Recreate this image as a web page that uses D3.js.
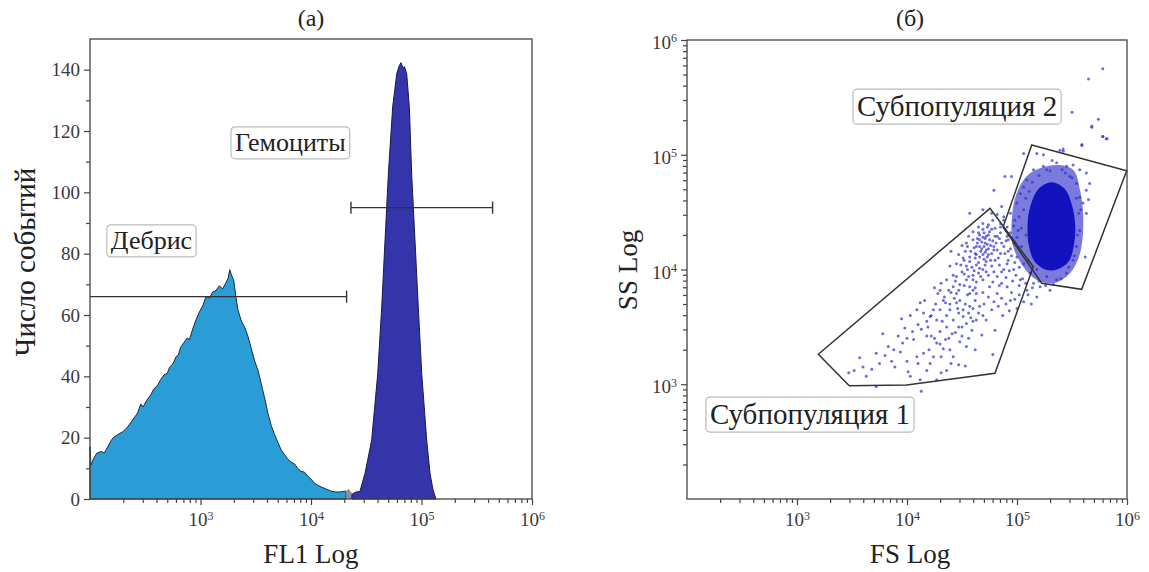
<!DOCTYPE html>
<html>
<head>
<meta charset="utf-8">
<script src="https://cdnjs.cloudflare.com/ajax/libs/d3/7.8.5/d3.min.js"></script>
<style>
body{margin:0;background:#fff;}
text{font-family:"Liberation Serif","Times New Roman",serif;}
</style>
</head>
<body>
<svg width="1149" height="572"></svg>
<script>
// ---- panel (а): FL1 histogram, x values are log10(FL1) ----
var debrisFL1 = [2.000,2.000,2.008,2.03,2.06,2.10,2.13,2.16,2.19,2.21,2.25,2.30,2.34,2.39,2.43,2.46,2.48,2.51,2.55,2.58,2.61,2.64,2.67,2.70,2.72,2.75,2.78,2.80,2.82,2.85,2.88,2.90,2.93,2.96,2.99,3.02,3.05,3.08,3.11,3.14,3.17,3.20,3.23,3.25,3.265,3.28,3.30,3.32,3.34,3.37,3.40,3.43,3.46,3.49,3.52,3.55,3.58,3.61,3.64,3.67,3.70,3.73,3.76,3.79,3.82,3.85,3.88,3.91,3.94,3.97,4.00,4.03,4.06,4.10,4.14,4.18,4.22,4.26,4.30,4.315,4.315];
var debrisCount = [0,17,11,13,14.9,15.5,15,17,19,20,21,22,23.5,26,28,31,30,32,34,36,37,39,40.5,41,43,44,46.5,47,49.5,51,52.5,52,55.5,58.5,61,63,66,65.5,67.5,68,69.5,68.5,70.5,72,74.8,73,71.5,66,61.5,58,56,53,49,45,42,37.5,33,28,24,21,18.5,16,14.5,13,12,11.5,10,9,8.8,7.5,6.5,5.2,4.5,3.8,3.2,2.6,2.3,2.3,2.5,2.6,0];

var overlapFL1 = [4.315,4.315,4.34,4.37,4.37];
var overlapCount = [0,2.6,3.3,2.0,0];

var hemoFL1 = [4.37,4.37,4.40,4.443,4.489,4.549,4.604,4.640,4.670,4.700,4.739,4.776,4.796,4.814,4.833,4.846,4.866,4.890,4.911,4.941,4.971,5.002,5.047,5.077,5.104,5.131];
var hemoCount = [0,1.5,2.2,2.5,8.4,19.2,40.9,62.6,84.4,106,127.8,138.7,141,142.3,140.5,141,138.7,127.8,106,84.4,62.6,40.9,19.2,8.4,3,0];

// histogram gates
var gateNames = ["Дебрис", "Гемоциты"];
var gateFrom = [100, 23000];
var gateTo = [21000, 440000];
var gateLevel = [66, 95];
var gateLabelFL1 = [360, 6500];
var gateLabelCount = [84.5, 116.5];

// ---- panel (б): FS vs SS, log10 values ----
var gate1 = [[3.194,3.261],[3.475,2.987],[3.997,2.993],[4.800,3.095],[5.148,4.024],[4.755,4.533]];
var gate2 = [[5.134,5.085],[5.997,4.861],[5.588,3.827],[5.225,3.880],[4.873,4.370]];
var popNames = ["Субпопуляция 1", "Субпопуляция 2"];
var popLabelFS = [3.118, 4.455];
var popLabelSS = [2.741, 5.425];

var coreContour = [[5.194,4.700],[5.315,4.760],[5.436,4.700],[5.500,4.560],[5.530,4.373],[5.515,4.199],[5.470,4.070],[5.375,4.005],[5.270,3.995],[5.160,4.070],[5.110,4.199],[5.095,4.344],[5.115,4.530]];
var haloContour = [[5.118,4.838],[5.361,4.911],[5.512,4.867],[5.573,4.693],[5.603,4.431],[5.573,4.141],[5.482,3.967],[5.330,3.880],[5.179,3.908],[5.057,4.024],[4.966,4.199],[4.952,4.431],[4.997,4.664]];

var events = [
[3.57,3.23],[3.47,3.10],[3.72,3.27],[3.78,3.44],[3.83,3.33],[3.86,3.20],[3.89,3.15],[3.94,3.28],[3.95,3.57],[3.98,3.49],
[4.03,3.60],[4.06,3.39],[4.09,3.24],[4.01,3.11],[4.03,3.07],[4.12,3.04],[4.13,2.94],[4.27,3.04],[4.31,3.10],[4.21,3.18],
[4.15,3.27],[4.18,3.42],[4.19,3.50],[4.15,3.62],[4.09,3.65],[4.12,3.71],[4.16,3.73],[4.24,3.65],[4.27,3.56],[4.30,3.46],
[4.35,3.39],[4.39,3.30],[4.42,3.24],[4.47,3.17],[4.53,3.16],[4.54,3.33],[4.50,3.42],[4.47,3.50],[4.42,3.56],[4.39,3.65],
[4.33,3.73],[4.28,3.79],[4.25,3.84],[4.31,3.88],[4.36,3.91],[4.42,3.95],[4.39,4.03],[4.45,4.05],[4.50,3.98],[4.54,3.91],
[4.57,3.85],[4.63,3.79],[4.62,3.73],[4.66,3.68],[4.69,3.60],[4.63,3.56],[4.59,3.47],[4.54,3.53],[4.51,3.65],[4.48,3.73],
[4.45,3.79],[4.42,3.85],[4.38,3.82],[4.35,3.71],[4.30,3.65],[4.21,3.59],[4.22,3.42],[4.27,3.36],[4.33,3.31],[4.68,3.43],
[4.78,3.26],[4.45,3.71],[4.57,3.68],[4.60,3.91],[4.65,3.97],[4.69,3.91],[4.75,3.85],[4.82,3.79],[4.86,3.75],[4.82,3.94],
[4.77,4.03],[4.72,4.07],[4.66,4.11],[4.62,4.14],[4.57,4.11],[4.53,4.16],[4.54,4.23],[4.60,4.26],[4.65,4.32],[4.69,4.35],
[4.74,4.39],[4.78,4.43],[4.69,4.40],[4.65,4.37],[4.60,4.33],[4.56,4.29],[4.50,4.21],[4.51,4.10],[4.47,4.13],[4.45,3.94],
[4.54,4.03],[4.63,4.04],[4.71,4.23],[4.75,4.26],[4.80,4.29],[4.85,4.32],[4.86,4.23],[4.82,4.17],[4.89,4.14],[4.91,4.05],
[4.88,4.00],[4.83,4.10],[4.77,4.14],[4.72,4.17],[4.68,4.18],[4.63,4.20],[4.71,4.27],[4.66,4.26],[4.75,4.33],[4.80,4.36],
[4.85,4.40],[4.88,4.46],[4.82,4.48],[4.77,4.49],[4.57,4.49],[4.69,4.52],[4.86,4.55],[4.91,4.37],[4.92,4.26],[4.94,4.18],
[4.40,4.16],[4.57,3.79],[4.62,3.84],[4.69,4.00],[4.74,3.95],[4.78,3.89],[4.86,3.88],[4.91,3.85],[4.94,3.73],[4.83,3.68],
[4.77,3.65],[4.72,3.56],[4.80,3.47],[4.41,3.44],[4.48,3.37],[4.36,3.50],[4.31,3.24],[4.24,3.24],[3.63,3.07],[3.72,2.98],
[4.70,4.20],[4.73,4.22],[4.68,4.24],[4.71,4.15],[4.74,4.18],[4.76,4.21],[4.67,4.16],[4.64,4.23],[4.72,4.29],[4.78,4.25],
[4.62,4.10],[4.65,4.06],[4.59,4.02],[4.55,4.00],[4.60,3.95],[4.57,4.07],[4.66,4.01],[4.71,4.04],[4.63,3.89],[4.52,3.96],
[4.48,3.87],[4.44,3.90],[4.40,3.80],[4.47,3.62],[4.53,3.70],[4.58,3.58],[4.36,3.60],[4.32,3.55],[4.69,4.13],[4.73,4.11],
[4.66,4.30],[4.70,4.32],[4.74,4.30],[4.77,4.35],[4.73,4.37],[4.69,4.28],[4.64,4.27],[4.61,4.19],[4.66,4.20],[4.74,4.13],
[4.79,4.17],[4.81,4.23],[4.84,4.27],[4.76,4.08],[4.70,4.09],[4.63,4.13],[4.58,4.16],[4.55,4.20],[4.52,4.08],[4.49,4.04],
[4.56,3.94],[4.61,3.99],[4.67,3.94],[4.72,3.98],[4.79,3.98],[4.84,4.04],[4.80,4.08],[4.52,3.86],[4.47,3.82],[4.43,3.75],
[4.39,3.70],[4.46,3.66],[4.51,3.59],[4.56,3.62],[4.60,3.66],[4.65,3.62],[4.70,3.70],[4.74,3.76],[4.79,3.72],[4.69,3.80],
[4.60,3.82],[4.55,3.78],[4.34,3.76],[4.30,3.82],[4.26,3.70],[4.22,3.60],[4.18,3.55],[4.13,3.48],[4.10,3.52],[4.05,3.46],
[4.00,3.40],[3.96,3.36],[3.92,3.42],[3.88,3.30],[3.80,3.25],[3.75,3.18],[3.68,3.13],[3.60,3.15],[3.52,3.12],[4.20,3.30],
[4.25,3.40],[4.30,3.35],[4.38,3.40],[4.44,3.45],[4.50,3.50],[4.56,3.40],[4.60,3.55],[4.62,3.30],[4.40,3.18],[4.36,3.12],
[4.18,3.12],[4.10,3.18],[4.00,3.20],
[4.86,3.98],[4.90,3.93],[4.93,3.99],[4.96,3.90],[4.99,3.95],[5.02,3.86],[5.05,3.92],[5.08,3.88],[4.95,3.80],[4.98,3.74],
[5.02,3.78],[5.06,3.72],[5.10,3.78],[5.13,3.70],[4.90,3.70],[4.93,3.64],[5.00,3.66],[4.87,3.60],[4.84,3.86],[4.88,4.20],
[4.92,4.16],[4.95,4.12],[4.98,4.06],[5.02,4.02],[4.90,4.25],[4.94,4.32],[4.97,4.38],[5.00,4.28],[5.04,4.36],[5.08,4.30],
[5.02,4.46],[5.06,4.52],[5.08,4.62],[5.11,4.68],[5.14,4.76],[5.20,4.82],[5.24,4.90],[5.30,4.86],[5.14,3.84],[5.20,3.90],
[5.26,3.86],[5.33,3.87],[5.40,3.92],[5.47,4.02],[5.52,4.12],[5.55,4.30],[5.58,4.52],[5.54,4.62],[5.50,4.80],[5.44,4.84],
[4.79,4.69],[4.89,4.81],[4.95,4.81],[5.06,5.01],[5.39,5.04],[5.42,5.03],[5.68,5.25],[5.78,5.16],[5.82,5.14],[5.59,5.09],
[5.18,5.01],[5.24,5.00],[5.32,4.95],[5.36,4.93],[5.45,4.90],[5.51,4.91],[5.57,4.87],[5.63,4.84],[5.66,4.75],[5.63,4.69],
[5.65,4.61],[5.60,4.58],[5.63,4.49],[5.62,4.11],[5.06,4.72],[5.00,4.58],[5.03,4.66],[5.09,4.78],[5.15,4.87],[5.27,4.87],
[5.41,4.87],[5.48,4.81],[5.54,4.75],[5.57,4.63],[5.56,4.49],[5.57,4.34],[5.54,4.20],[5.51,4.08],[5.45,3.97],[5.36,3.91],
[5.27,3.94],[5.18,4.00],[5.10,4.08],[5.04,4.20],[5.01,4.34],[4.98,4.43],[4.94,4.49],[4.88,4.43],[4.85,4.37],[4.82,4.29],
[4.91,4.29],[4.97,4.23],[5.06,4.05],[5.12,3.97],[5.15,3.88],[5.21,3.85],[5.30,3.82],[5.18,3.76],[5.09,3.82],[5.03,3.91],
[4.97,4.00],[4.92,4.08],[5.00,4.11],[4.85,4.14],[4.79,4.20],
[5.78,5.75],[5.65,5.66],[5.50,5.37],[5.74,5.31],[5.68,5.24],[5.78,5.16],[5.81,5.14],[5.59,5.08],[5.42,5.05]
];

var majorLog = [1e3, 1e4, 1e5, 1e6];
var minorMult = [2, 3, 4, 5, 6, 7, 8, 9];
var countTicks = [0, 20, 40, 60, 80, 100, 120, 140];
var countMinor = [10, 30, 50, 70, 90, 110, 130];

var svg = d3.select("svg");

var xA = d3.scaleLog().domain([1e2, 1e6]).range([90, 532]);
var yA = d3.scaleLinear().domain([0, 150]).range([499, 39]);
var xB = d3.scaleLog().domain([1e2, 1e6]).range([687, 1127]);
var yB = d3.scaleLog().domain([1e2, 1e6]).range([499, 40]);

function p10(v){ return Math.pow(10, v); }

var minorLog = [];
[1e2, 1e3, 1e4, 1e5].forEach(function(dec){
    minorMult.forEach(function(m){ minorLog.push(m * dec); });
});

function supLabels(g){
    g.selectAll(".tick text").each(function(d){
        var t = d3.select(this);
        t.text("10");
        t.append("tspan").attr("dy", "-0.55em").attr("font-size", "12px").text(Math.round(Math.log10(d)));
    });
}

function styleAxis(g){
    g.select(".domain").remove();
    g.selectAll(".tick line").attr("stroke", "#444").attr("stroke-width", 1.2);
    g.selectAll(".tick text").attr("fill", "#3a3a3a").attr("font-size", "19px")
        .attr("font-family", "Liberation Serif");
}

function drawAxes(x, y, yIsLog){
    svg.append("g").attr("transform", "translate(0,499)")
        .call(d3.axisBottom(x).tickValues(minorLog).tickSize(4).tickFormat(""))
        .call(styleAxis);
    svg.append("g").attr("transform", "translate(0,499)")
        .call(d3.axisBottom(x).tickValues(majorLog).tickSize(6).tickPadding(8))
        .call(styleAxis).call(supLabels);
    var x0 = x.range()[0];
    if(yIsLog){
        svg.append("g").attr("transform", "translate(" + x0 + ",0)")
            .call(d3.axisLeft(y).tickValues(minorLog).tickSize(4).tickFormat(""))
            .call(styleAxis);
        svg.append("g").attr("transform", "translate(" + x0 + ",0)")
            .call(d3.axisLeft(y).tickValues(majorLog).tickSize(6).tickPadding(4))
            .call(styleAxis).call(supLabels)
            .call(g => g.selectAll(".tick text").attr("dy", "0.45em"));
    }else{
        svg.append("g").attr("transform", "translate(" + x0 + ",0)")
            .call(d3.axisLeft(y).tickValues(countMinor).tickSize(4).tickFormat(""))
            .call(styleAxis);
        svg.append("g").attr("transform", "translate(" + x0 + ",0)")
            .call(d3.axisLeft(y).tickValues(countTicks).tickSize(6).tickPadding(4))
            .call(styleAxis);
    }
    svg.append("rect")
        .attr("x", x.range()[0]).attr("y", y.range()[1])
        .attr("width", x.range()[1] - x.range()[0])
        .attr("height", y.range()[0] - y.range()[1])
        .attr("fill", "none").attr("stroke", "#444").attr("stroke-width", 1.3);
}

function labelBox(px, py, txt, size){
    var g = svg.append("g").attr("transform", "translate(" + px + "," + py + ")");
    var t = g.append("text").attr("text-anchor", "middle").attr("dy", "0.35em")
        .attr("font-size", size + "px").attr("fill", "#222").text(txt);
    var b = t.node().getBBox();
    g.insert("rect", "text")
        .attr("x", b.x - 4).attr("y", b.y - 1)
        .attr("width", b.width + 8).attr("height", b.height + 3)
        .attr("rx", 4).attr("fill", "#fff")
        .attr("stroke", "#bbb").attr("stroke-width", 1.2);
}

// ---- panel (а) ----
function histArea(xs, cs){
    var pts = xs.map((v, i) => [p10(v), cs[i]]);
    return d3.area().x(d => xA(d[0])).y0(yA(0)).y1(d => yA(d[1]))(pts);
}

svg.append("path").attr("d", histArea(debrisFL1, debrisCount))
    .attr("fill", "#2a9cd6").attr("stroke", "#1c2a40").attr("stroke-width", 1);
svg.append("path").attr("d", histArea(overlapFL1, overlapCount))
    .attr("fill", "#8c8ea0");
svg.append("path").attr("d", histArea(hemoFL1, hemoCount))
    .attr("fill", "#3434ab").attr("stroke", "#1a1a50").attr("stroke-width", 1);

gateNames.forEach(function(name, i){
    var yy = yA(gateLevel[i]);
    var xa = xA(gateFrom[i]), xb = xA(gateTo[i]);
    svg.append("line").attr("x1", xa).attr("x2", xb).attr("y1", yy).attr("y2", yy)
        .attr("stroke", "#333").attr("stroke-width", 1.4);
    [gateFrom[i], gateTo[i]].forEach(function(v){
        if(v <= xA.domain()[0]) return;
        svg.append("line").attr("x1", xA(v)).attr("x2", xA(v))
            .attr("y1", yy - 6).attr("y2", yy + 6)
            .attr("stroke", "#333").attr("stroke-width", 1.4);
    });
    labelBox(xA(gateLabelFL1[i]), yA(gateLabelCount[i]), name, 26);
});

drawAxes(xA, yA, false);

// ---- panel (б) ----
var line = d3.line().x(d => xB(p10(d[0]))).y(d => yB(p10(d[1])));

svg.append("path").attr("d", line.curve(d3.curveCatmullRomClosed)(haloContour))
    .attr("fill", "#2a2ac8").attr("fill-opacity", 0.62);

svg.append("g").selectAll("circle")
    .data(events)
    .enter().append("circle")
    .attr("cx", d => xB(p10(d[0])))
    .attr("cy", d => yB(p10(d[1])))
    .attr("r", 1.5)
    .attr("fill", "#2f2fcc")
    .attr("fill-opacity", 0.7);

svg.append("path").attr("d", line.curve(d3.curveCatmullRomClosed)(coreContour))
    .attr("fill", "#1212bf");

[gate1, gate2].forEach(function(g){
    svg.append("path").attr("d", line.curve(d3.curveLinearClosed)(g))
        .attr("fill", "none").attr("stroke", "#333").attr("stroke-width", 1.5);
});

popNames.forEach(function(name, i){
    labelBox(xB(p10(popLabelFS[i])), yB(p10(popLabelSS[i])), name, 29);
});

drawAxes(xB, yB, true);

// ---- titles ----
svg.append("text").attr("x", 311).attr("y", 26).attr("text-anchor", "middle")
    .attr("font-size", "24px").attr("fill", "#222").text("(а)");
svg.append("text").attr("x", 910).attr("y", 26).attr("text-anchor", "middle")
    .attr("font-size", "24px").attr("fill", "#222").text("(б)");

svg.append("text").attr("x", 311).attr("y", 563).attr("text-anchor", "middle")
    .attr("font-size", "27px").attr("fill", "#222").text("FL1 Log");
svg.append("text").attr("x", 910).attr("y", 563).attr("text-anchor", "middle")
    .attr("font-size", "27px").attr("fill", "#222").text("FS Log");

svg.append("text").attr("transform", "translate(35,262) rotate(-90)").attr("text-anchor", "middle")
    .attr("font-size", "29px").attr("fill", "#222").text("Число событий");
svg.append("text").attr("transform", "translate(637,270) rotate(-90)").attr("text-anchor", "middle")
    .attr("font-size", "27px").attr("fill", "#222").text("SS Log");
</script>
</body>
</html>
